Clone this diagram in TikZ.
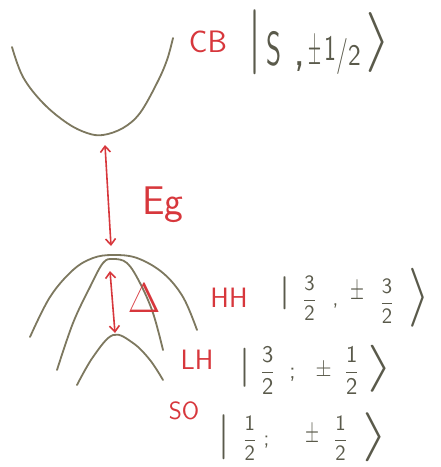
\RequirePackage{fix-cm}
\documentclass[tikz,border=0pt]{standalone}
\usepackage{amsmath}
\usetikzlibrary{arrows.meta}
\definecolor{pen}{RGB}{125,120,95}
\definecolor{ink}{RGB}{90,90,75}
\definecolor{redpen}{RGB}{215,55,60}
\newcommand{\fr}[2]{$\dfrac{\mathsf{#1}}{\mathsf{#2}}$}
\newcommand{\kbar}[3]{\raisebox{#1}{\resizebox*{#2}{#3}{\raisebox{\depth}{$|$}}}}
\newcommand{\kang}[3]{\raisebox{#1}{\resizebox*{#2}{#3}{\raisebox{\depth}{$\rangle$}}}}
\newcommand{\sx}[2]{\scalebox{#1}[1]{#2}}
\newcommand{\pmr}[3]{\raisebox{#3}{\resizebox*{#1}{#2}{\raisebox{\depth}{$\pm$}}}}
\begin{document}
\begin{tikzpicture}[x=1pt,y=-1pt,
  band/.style={draw=pen,line width=1.8pt,line cap=round,line join=round},
  gaparrow/.style={draw=redpen,line width=1.6pt,{Straight Barb[length=6pt,width=10pt]}-{Straight Barb[length=6pt,width=10pt]}},
  lbl/.style={text=redpen,font=\sffamily\fontsize{#1}{#1}\selectfont,inner sep=0pt},
  ket/.style={text=ink,font=\sffamily\fontsize{#1}{#1}\selectfont,inner sep=0pt,anchor=base west}]
\useasboundingbox (0,0) rectangle (441,467);
% conduction band
\draw[band] plot[smooth,tension=0.6] coordinates {(12,47) (23,77) (43,103) (67,123) (87,133) (103,135) (123,128) (140,113) (157,83) (167,60) (173,38)};
% heavy hole
\draw[band] plot[smooth,tension=0.6] coordinates {(30,337) (50,297) (73,270) (93,258) (113,255) (137,258) (163,273) (183,297) (197,330)};
% light hole
\draw[band] plot[smooth,tension=0.6] coordinates {(57,370) (73,323) (90,287) (103,263) (113,259) (127,263) (140,283) (153,313) (163,350)};
% split-off
\draw[band] plot[smooth,tension=0.6] coordinates {(77,385) (93,357) (113,335) (133,343) (150,360) (163,380)};
% arrows
\coordinate (egtop) at (105,145);
\coordinate (egbot) at (111,246);
\draw[gaparrow] (egtop) -- (egbot);
\coordinate (dtop) at (110,271);
\coordinate (dbot) at (115,333);
\draw[gaparrow] (dtop) -- (dbot);
% labels
\node[lbl=31] (cb) at (208,42) {CB};
\node[lbl=40] (eg) at (163,205) {Eg};
\node[lbl=42] (delta) at (144,298) {$\Delta$};
\node[lbl=28] (hh) at (229,298) {HH};
\node[lbl=28] (lh) at (197,360) {LH};
\node[lbl=25] (so) at (184,411) {SO};
% kets
\node[ket=48] (cbket) at (247,65) {\kbar{-10pt}{15pt}{65pt}\hspace{4.5pt}\sx{0.6}{S}\hspace{11.5pt},\hspace{3.2pt}\pmr{13pt}{31pt}{-3pt}\hspace{2.4pt}\raisebox{5pt}{\fontsize{36}{36}\selectfont\sx{0.7}{1}}{\fontsize{36}{36}\selectfont\sx{0.7}{/}}{\fontsize{30}{30}\selectfont\sx{0.9}{2}}\hspace{4.8pt}\kang{-7pt}{26pt}{60pt}};
\node[ket=22] (hhket) at (278,305.5) {\kbar{-4.5pt}{13pt}{33pt}\hspace{12pt}\fr{3}{2}\hspace{16.6pt},\hspace{12.4pt}\pmr{14pt}{20pt}{3.5pt}\hspace{16pt}\raisebox{-3pt}{\fr{3}{2}}\hspace{14.6pt}\kang{-21.5pt}{22pt}{59pt}};
\node[ket=24] (lhket) at (238.5,378.5) {\kbar{-8.5pt}{13pt}{39pt}\hspace{9.1pt}\fr{3}{2}\hspace{15pt};\hspace{20pt}\pmr{16pt}{16pt}{0.5pt}\hspace{13.1pt}\fr{1}{2}\hspace{9pt}\kang{-13.5pt}{26pt}{47pt}};
\node[ket=22] (soket) at (217.5,445.5) {\kbar{-14.5pt}{13pt}{45pt}\hspace{12.7pt}\fr{1}{2}\hspace{7.4pt};\hspace{36.4pt}\pmr{14pt}{20pt}{0.5pt}\hspace{14.4pt}\fr{1}{2}\hspace{15.5pt}\kang{-16.5pt}{26pt}{49pt}};
\end{tikzpicture}
\end{document}
